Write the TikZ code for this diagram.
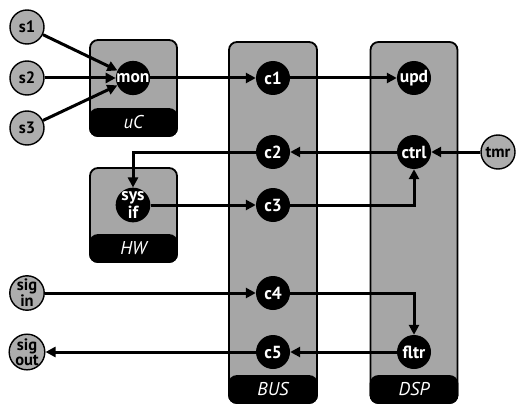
\documentclass[tikz,border=0pt]{standalone}
\usepackage{fontspec}
\setmainfont{PT Sans}
\usetikzlibrary{positioning,arrows.meta}
\definecolor{panelgray}{gray}{0.65}
\definecolor{portgray}{gray}{0.68}
\tikzset{unit/.style={circle,fill=black,text=white,minimum size=34pt,inner sep=0pt,align=center,
                      font=\bfseries\fontsize{17.5}{13}\selectfont}}
\tikzset{port/.style={circle,draw=black,fill=portgray,line width=1.4pt,minimum size=34pt,inner sep=0pt,align=center,
                      font=\bfseries\fontsize{16.5}{12.5}\selectfont}}
\tikzset{panel/.style={draw=black,fill=panelgray,line width=1.8pt,rounded corners=8pt}}
\tikzset{band/.style={draw=black,fill=black,line width=1.8pt,rounded corners=8pt,minimum height=27pt,
                      text=white,font=\itshape\fontsize{18.5}{18}\selectfont}}
\tikzset{wire/.style={line width=3pt,-{Triangle[length=10pt,width=10pt]}}}

\begin{document}
\begin{tikzpicture}[x=1pt,y=-1pt]
        \useasboundingbox (0,0) rectangle (516,409);

        % panels
        \node[panel,minimum width=87pt,minimum height=96pt] (ucbox) at (133.5,88) {};
        \node[band,minimum width=87pt,anchor=south] (uclbl) at (ucbox.south) {uC};
        \node[panel,minimum width=87pt,minimum height=94pt] (hwbox) at (133.5,215) {};
        \node[band,minimum width=87pt,anchor=south] (hwlbl) at (hwbox.south) {HW};
        \node[panel,minimum width=88pt,minimum height=361pt] (busbox) at (273,222.5) {};
        \node[band,minimum width=88pt,anchor=south] (buslbl) at (busbox.south) {BUS};
        \node[panel,minimum width=87pt,minimum height=361pt] (dspbox) at (414,222.5) {};
        \node[band,minimum width=87pt,anchor=south] (dsplbl) at (dspbox.south) {DSP};

        % units
        \node[unit] (mon) at (133,78) {mon};
        \node[unit] (sysif) at (133,205) {sys\\if};
        \node[unit] (c1) at (273,78) {c1};
        \node[unit] (c2) at (273,152) {c2};
        \node[unit] (c3) at (273,205) {c3};
        \node[unit] (c4) at (273,293) {c4};
        \node[unit] (c5) at (273,352) {c5};
        \node[unit] (upd) at (414,78) {upd};
        \node[unit] (ctrl) at (414,152) {ctrl};
        \node[unit] (fltr) at (414,352) {fltr};

        % ports
        \node[port] (s1) at (27,27) {s1};
        \node[port] (s2) at (27,78) {s2};
        \node[port] (s3) at (27,128) {s3};
        \node[port] (sigin) at (27,293) {sig\\in};
        \node[port] (sigout) at (27,352) {sig\\out};
        \node[port] (tmr) at (498,152) {tmr};

        \draw[wire] (s1) to (mon);
        \draw[wire] (s2) to (mon);
        \draw[wire] (s3) to (mon);
        \draw[wire] (mon) to (c1);
        \draw[wire] (c1) to (upd);
        \draw[wire] (tmr) to (ctrl);
        \draw[wire] (ctrl) to (c2);
        \draw[wire] (c2) -| (sysif);
        \draw[wire] (sysif) to (c3);
        \draw[wire] (c3) -| (ctrl);
        \draw[wire] (sigin) to (c4);
        \draw[wire] (c4) -| (fltr);
        \draw[wire] (fltr) to (c5);
        \draw[wire] (c5) to (sigout);
    \end{tikzpicture}
\end{document}
